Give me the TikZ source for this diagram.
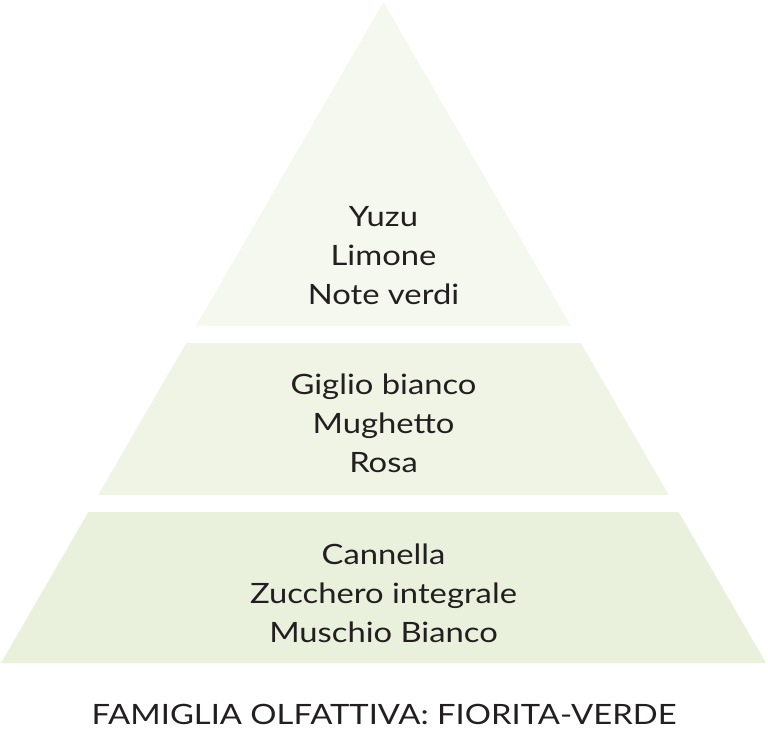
\documentclass[tikz,border=0pt]{standalone}
\usepackage{fontspec}
\setmainfont{Lato}[FakeStretch=1.17]
\definecolor{tiertop}{HTML}{F5F8EE}
\definecolor{tiermid}{HTML}{EFF4E5}
\definecolor{tierlow}{HTML}{E9F1DD}
\definecolor{ink}{HTML}{231F20}

\begin{document}
\begin{tikzpicture}[x=1pt,y=-1pt,
  notes/.style={align=center,text=ink,inner sep=0pt,font=\fontsize{28}{39}\selectfont}]
  \useasboundingbox (0,0) rectangle (768,752);
  \coordinate (apex) at (383.5,2);
  \fill[tiertop] (apex) -- (571,326) -- (196,326) -- cycle;
  \fill[tiermid] (186.2,343) -- (580.8,343) -- (668.8,495) -- (98.2,495) -- cycle;
  \fill[tierlow] (88.4,512) -- (678.6,512) -- (766,663) -- (1,663) -- cycle;
  \node[notes] (topnotes) at (383.5,256) {Yuzu\\Limone\\Note verdi};
  \node[notes] (heartnotes) at (383.5,423) {Giglio bianco\\Mughetto\\Rosa};
  \node[notes] (basenotes) at (383.5,593) {Cannella\\Zucchero integrale\\Muschio Bianco};
  \node[notes,anchor=base] (family) at (384,724) {FAMIGLIA OLFATTIVA: FIORITA-VERDE};
\end{tikzpicture}
\end{document}
